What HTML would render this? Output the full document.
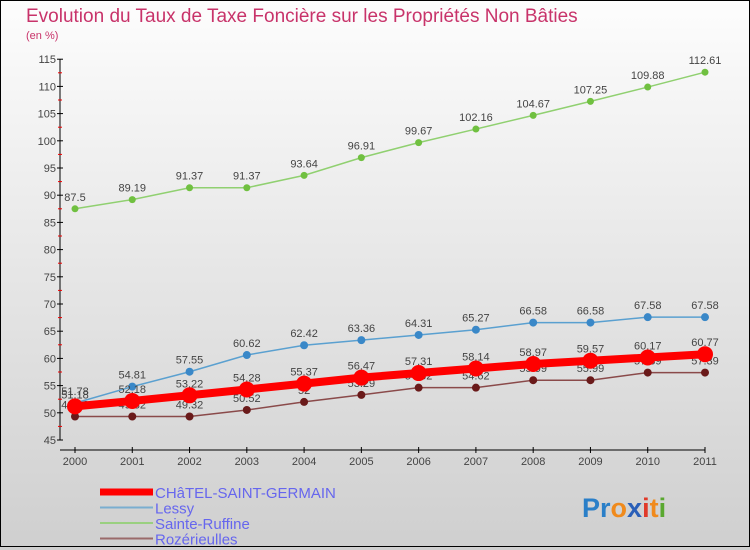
<!DOCTYPE html>
<html><head><meta charset="utf-8"><style>
body{margin:0}
#c{width:750px;height:550px;position:relative;background:linear-gradient(#fdfdfd,#cfcfcf);font-family:"Liberation Sans",sans-serif;overflow:hidden}
svg text{font-family:"Liberation Sans",sans-serif}
</style></head><body>
<div id="c">
<svg id="s" width="750" height="550">
<rect x="0.5" y="0.5" width="749" height="546" fill="none" stroke="#000"/>
<text x="26" y="22" font-size="19" fill="#c8336a">Evolution du Taux de Taxe Foncière sur les Propriétés Non Bâties</text>
<text x="26" y="39" font-size="11" fill="#c8336a">(en %)</text>
<g id="axes"></g><g id="series"></g><g id="legend"></g>
<text x="582" y="517" font-size="27" font-weight="bold"><tspan fill="#2a7fc8">Pr</tspan><tspan fill="#f08a1c">o</tspan><tspan fill="#2a5fb8">x</tspan><tspan fill="#e03a2a">i</tspan><tspan fill="#f08a1c">t</tspan><tspan fill="#5aa830">i</tspan></text>
</svg>
</div>
<script>
const years=[2000,2001,2002,2003,2004,2005,2006,2007,2008,2009,2010,2011];
const chatel=[51.18,52.18,53.22,54.28,55.37,56.47,57.31,58.14,58.97,59.57,60.17,60.77];
const lessy=[51.78,54.81,57.55,60.62,62.42,63.36,64.31,65.27,66.58,66.58,67.58,67.58];
const ruffine=[87.5,89.19,91.37,91.37,93.64,96.91,99.67,102.16,104.67,107.25,109.88,112.61];
const rozer=[49.32,49.32,49.32,50.52,52,53.29,54.62,54.62,55.99,55.99,57.39,57.39];
const yTicks=[45,50,55,60,65,70,75,80,85,90,95,100,105,110,115];
const NS="http://www.w3.org/2000/svg";
const xs=i=>75+i*(630/11);
const ys=v=>440-(v-45)*5.44;
function mk(tag,at,parent){const e=document.createElementNS(NS,tag);for(const k in at)e.setAttribute(k,at[k]);parent.appendChild(e);return e;}
const ax=document.getElementById('axes');
let e=mk('line',{x1:60,y1:ys(115),x2:60,y2:ys(45),stroke:'#000'},ax);


e=mk('line',{x1:60,y1:450,x2:705,y2:450,stroke:'#000'},ax);


yTicks.forEach((t,i)=>{
 mk('line',{x1:57,y1:ys(t),x2:63,y2:ys(t),stroke:'#000'},ax);
 if(i<yTicks.length-1) mk('line',{x1:58,y1:ys(t+2.5),x2:62,y2:ys(t+2.5),stroke:'#e00'},ax);
 const tx=mk('text',{x:56,y:ys(t)+4,'font-size':11,fill:'#444','text-anchor':'end'},ax);tx.textContent=t;
 
 
});
years.forEach((y,i)=>{
 mk('line',{x1:xs(i),y1:447,x2:xs(i),y2:453,stroke:'#000'},ax);
 const tx=mk('text',{x:xs(i),y:465,'font-size':11,fill:'#444','text-anchor':'middle'},ax);tx.textContent=y;
 
 
});
const sg=document.getElementById('series');
function draw(vals,color,w,r,name,dot){
 const g=mk('g',{},sg);
 
 
 mk('polyline',{points:vals.map((v,i)=>xs(i)+','+ys(v)).join(' '),fill:'none',stroke:color,'stroke-width':w},g);
 vals.forEach((v,i)=>{
  const c=mk('circle',{cx:xs(i),cy:ys(v),r:r,fill:dot},g);
  
  
  const t=mk('text',{x:xs(i),y:ys(v)-8,'font-size':11,fill:'#444','text-anchor':'middle'},g);t.textContent=v;
 });
}
draw(rozer,'#8a4a4a',1.5,4,'rozerieulles','#6a1a1a');
draw(ruffine,'#90d070',1.5,3.5,'sainte-ruffine','#70c040');
draw(lessy,'#5aa0d0',1.5,4,'lessy','#3a88c8');
draw(chatel,'#f00',8,8,'chatel','#f00');
const lg=document.getElementById('legend');
[['CHâTEL-SAINT-GERMAIN','#f00',7],['Lessy','#7aaed0',2],['Sainte-Ruffine','#9ad080',2],['Rozérieulles','#9a6a6a',2]].forEach((d,i)=>{
 const y=492+i*15.5;
 const g=mk('g',{},lg);
 
 
 mk('line',{x1:100,y1:y,x2:153,y2:y,stroke:d[1],'stroke-width':d[2]},g);
 const t=mk('text',{x:155,y:y+6,'font-size':15,fill:'#6666ee'},g);t.textContent=d[0];
});
</script>
</body></html>
